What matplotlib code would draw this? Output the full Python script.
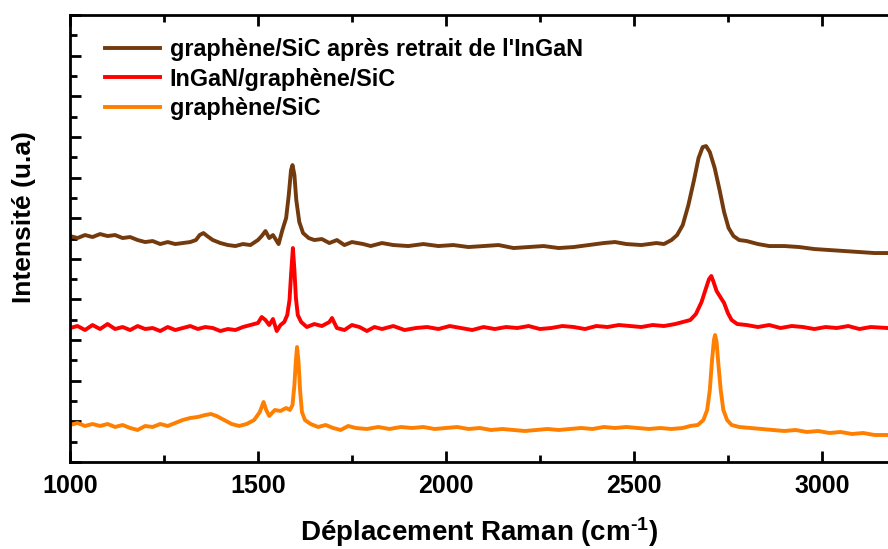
''' Raman spectra of graphene/SiC with and without InGaN '''
import matplotlib
matplotlib.use('Agg')
import matplotlib.pyplot as plt
from matplotlib.ticker import MultipleLocator

plt.rcParams['font.family'] = ['Liberation Sans', 'DejaVu Sans']
plt.rcParams['font.weight'] = 'bold'
plt.rcParams['mathtext.fontset'] = 'custom'
plt.rcParams['mathtext.bf'] = 'Liberation Sans:bold'
plt.rcParams['mathtext.rm'] = 'Liberation Sans:bold'
plt.rcParams['mathtext.default'] = 'bf'

# graphene/SiC after InGaN removal (brown)
wn_brown = [1000, 1020, 1040, 1060, 1080, 1100, 1120, 1140, 1160, 1180, 1200, 1220,
            1240, 1260, 1280, 1300, 1320, 1335, 1345, 1355, 1365, 1380, 1400, 1420,
            1440, 1460, 1480, 1500, 1510, 1520, 1530, 1540, 1550, 1555, 1565, 1575,
            1582, 1588, 1592, 1597, 1602, 1610, 1620, 1635, 1650, 1670, 1690, 1710,
            1730, 1750, 1780, 1800, 1830, 1860, 1900, 1940, 1980, 2020, 2060, 2100,
            2140, 2180, 2220, 2260, 2300, 2340, 2380, 2420, 2450, 2480, 2520, 2560,
            2580, 2600, 2615, 2630, 2645, 2660, 2672, 2683, 2692, 2702, 2715, 2728,
            2740, 2752, 2765, 2780, 2800, 2830, 2860, 2900, 2940, 2980, 3020, 3060,
            3100, 3140, 3175]
int_brown = [226, 224, 227, 225, 228, 226, 227, 224, 225, 222, 220, 221,
             218, 220, 218, 219, 220, 222, 227, 229, 226, 222, 219, 217,
             216, 218, 217, 222, 226, 231, 224, 227, 221, 218, 232, 244,
             267, 292, 297, 287, 262, 240, 229, 224, 222, 223, 219, 222,
             217, 220, 218, 216, 219, 217, 216, 218, 216, 217, 215, 216,
             217, 214, 215, 216, 214, 215, 217, 219, 220, 218, 217, 219,
             218, 222, 227, 237, 257, 282, 304, 315, 316, 310, 294, 272,
             250, 234, 226, 222, 221, 218, 216, 216, 215, 213, 212, 211,
             210, 209, 209]

# InGaN/graphene/SiC (red)
wn_red = [1000, 1020, 1040, 1060, 1080, 1100, 1120, 1140, 1160, 1180, 1200, 1220,
          1240, 1260, 1280, 1300, 1320, 1340, 1360, 1380, 1400, 1420, 1440, 1460,
          1480, 1500, 1510, 1520, 1530, 1540, 1550, 1560, 1570, 1578, 1584, 1588,
          1593, 1597, 1601, 1606, 1615, 1630, 1650, 1670, 1690, 1697, 1710, 1730,
          1750, 1770, 1790, 1810, 1830, 1860, 1890, 1920, 1950, 1980, 2010, 2040,
          2070, 2100, 2130, 2160, 2190, 2220, 2250, 2280, 2310, 2340, 2370, 2400,
          2430, 2460, 2490, 2520, 2550, 2580, 2610, 2630, 2650, 2665, 2680, 2692,
          2700, 2706, 2712, 2720, 2730, 2740, 2750, 2760, 2775, 2800, 2830, 2860,
          2890, 2920, 2950, 2980, 3010, 3040, 3070, 3100, 3130, 3175]
int_red = [134, 136, 132, 137, 133, 138, 133, 135, 132, 136, 133, 134,
           131, 135, 132, 134, 136, 133, 135, 134, 131, 133, 132, 135,
           137, 139, 145, 142, 137, 143, 131, 137, 140, 147, 162, 187,
           214, 192, 164, 147, 140, 135, 138, 136, 140, 144, 134, 132,
           137, 135, 131, 135, 133, 136, 132, 134, 135, 133, 136, 134,
           132, 135, 133, 135, 134, 136, 133, 134, 136, 135, 133, 136,
           135, 137, 136, 135, 137, 136, 138, 140, 142, 148, 160, 174,
           183, 186, 180, 171, 165, 159, 149, 142, 138, 137, 135, 137,
           134, 136, 135, 133, 135, 134, 136, 133, 135, 134]

# graphene/SiC (orange)
wn_orange = [1000, 1020, 1040, 1060, 1080, 1100, 1120, 1140, 1160, 1180, 1200, 1220,
             1240, 1260, 1280, 1300, 1320, 1340, 1360, 1375, 1390, 1410, 1430, 1450,
             1470, 1490, 1505, 1515, 1522, 1530, 1545, 1560, 1575, 1585, 1592, 1597,
             1601, 1604, 1608, 1612, 1617, 1625, 1640, 1660, 1680, 1700, 1720, 1740,
             1760, 1790, 1820, 1850, 1880, 1910, 1940, 1970, 2000, 2030, 2060, 2090,
             2120, 2150, 2180, 2210, 2240, 2270, 2300, 2330, 2360, 2390, 2420, 2450,
             2480, 2510, 2540, 2570, 2600, 2630, 2650, 2670, 2685, 2695, 2702, 2708,
             2713, 2716, 2720, 2725, 2731, 2738, 2748, 2760, 2780, 2810, 2840, 2870,
             2900, 2930, 2960, 2990, 3020, 3050, 3080, 3110, 3140, 3175]
int_orange = [37, 39, 36, 38, 36, 38, 35, 37, 34, 32, 36, 35,
              38, 36, 39, 42, 44, 45, 47, 48, 46, 42, 38, 36,
              38, 42, 50, 60, 52, 46, 52, 51, 54, 52, 57, 77,
              102, 115, 100, 72, 50, 42, 38, 35, 37, 34, 32, 36,
              34, 33, 35, 33, 35, 34, 35, 33, 34, 35, 33, 34,
              32, 33, 32, 31, 32, 33, 32, 33, 34, 33, 35, 34,
              35, 34, 33, 34, 33, 34, 36, 37, 42, 52, 72, 102,
              122, 127, 120, 97, 72, 52, 42, 37, 35, 34, 33, 32,
              31, 32, 30, 31, 29, 30, 28, 29, 27, 27]

labels = ["graphène/SiC après retrait de l'InGaN", 'InGaN/graphène/SiC', 'graphène/SiC']
colors = ['#733A0E', '#FF0000', '#FF8000']

fig = plt.figure(figsize=(8.88, 5.49), dpi=100)
ax = fig.add_axes([0.0788, 0.1585, 0.9212, 0.814])

ax.plot(wn_brown, int_brown, color=colors[0], lw=2.8, label=labels[0])
ax.plot(wn_red, int_red, color=colors[1], lw=2.8, label=labels[1])
ax.plot(wn_orange, int_orange, color=colors[2], lw=2.8, label=labels[2])

ax.set_xlim(1000, 3176)
ax.set_ylim(0, 447)

ax.xaxis.set_major_locator(MultipleLocator(500))
ax.xaxis.set_minor_locator(MultipleLocator(250))
ax.yaxis.set_major_locator(MultipleLocator(447 / 11))
ax.yaxis.set_minor_locator(MultipleLocator(447 / 22))
ax.set_yticklabels([])

ax.tick_params(which='both', direction='in', top=True, right=False, width=2)
ax.tick_params(which='major', length=8, labelsize=18, pad=9)
ax.tick_params(which='minor', length=5)
for lab in ax.get_xticklabels():
    lab.set_fontweight('bold')

for side in ['left', 'bottom', 'top']:
    ax.spines[side].set_linewidth(2)
ax.spines['right'].set_visible(False)

ax.set_xlabel(r'Déplacement Raman (cm$^{\text{-1}}$)', fontsize=20, fontweight='bold',
              labelpad=12)
ax.set_ylabel('Intensité (u.a)', fontsize=19, fontweight='bold')
ax.yaxis.set_label_coords(-0.041, 0.548)

ax.legend(loc='upper left', bbox_to_anchor=(0.02, 0.99), frameon=False,
          prop={'size': 16.8, 'weight': 'bold'}, handlelength=2.35,
          handletextpad=0.42, labelspacing=0.27, borderpad=0.3)

plt.savefig('out.png', dpi=100)
